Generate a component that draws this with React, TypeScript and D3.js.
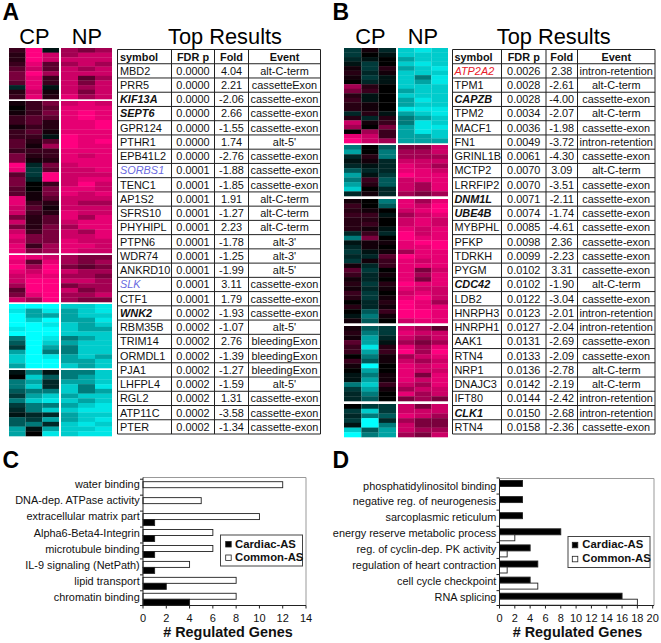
import React from "react";
import * as d3 from "d3";

// ---------- Heat map values: + magenta, - cyan, columns CP1 CP2 CP3 NP1 NP2 NP3
const heatA1 = [[3,9,-1,6,5,6],[2,9,7,6,7,7],[2,9,7,7,7,7],[3,8,4,6,7,6],[4,7,4,7,6,7],[5,9,6,7,7,7],[5,8,3,7,4,6],[4,8,3,7,5,7],[-2,8,-1,7,6,7],[2,7,1,7,5,7],[3,8,2,8,6,7]];
const heatA2 = [[1,3,5,7,8,7],[0,3,4,8,8,8],[1,3,5,8,9,8],[3,4,4,8,9,8],[3,4,2,8,8,9],[1,3,2,8,8,9],[3,4,1,8,8,8],[3,3,-1,9,8,8],[4,2,4,9,8,9],[4,1,6,9,8,8],[3,3,3,8,8,8],[5,2,3,8,7,8],[5,1,2,8,8,8],[9,-2,5,7,8,8],[8,-3,4,7,7,8],[4,-3,9,7,7,7],[5,-2,9,7,8,8],[5,0,3,7,9,7],[4,0,5,8,8,7],[4,1,5,8,7,8],[8,1,4,7,7,7],[8,3,2,7,6,6],[7,4,1,7,7,7],[7,3,2,8,7,7],[5,2,4,8,6,8],[7,2,4,7,8,8],[5,2,5,6,8,8],[7,3,5,7,6,8],[8,5,5,7,7,8],[7,5,5,8,7,7],[8,3,6,8,8,7],[8,5,6,8,7,7]];
const heatA3 = [[9,8,7,6,5,5],[8,4,8,6,5,6],[9,6,9,5,4,5],[8,7,9,7,6,6],[7,8,8,6,6,5],[7,9,9,7,7,6],[6,9,9,5,6,6],[4,9,9,7,5,6],[5,8,9,6,6,7],[7,6,9,6,5,5]];
const heatA4 = [[-9,-9,-9,-7,-7,-8],[-8,-6,-8,-6,-7,-8],[-9,-6,-6,-6,-7,-7],[-9,-7,-9,-6,-6,-8],[-9,-9,-8,-7,-6,-7],[-8,-9,-9,-7,-6,-6],[-9,-9,-9,-7,-7,-7],[-5,-9,-8,-5,-6,-7],[-4,-9,-7,-6,-7,-7],[-3,-9,-6,-5,-7,-7],[-6,-9,-5,-5,-7,-7],[-7,-9,-8,-6,-7,-6],[-7,-9,-9,-6,-6,-7],[-6,-9,-9,-7,-6,-7]];
const heatA5 = [[-1,-5,-1,-5,-5,-7],[0,-7,-4,-5,-6,-7],[-5,-6,-2,-6,-6,-7],[-5,-7,-2,-7,-5,-8],[-4,-5,-5,-7,-5,-6],[-3,-6,-7,-6,-7,-7],[-5,-7,-8,-7,-6,-7],[-3,-5,-5,-6,-7,-8],[-2,-5,-7,-7,-8,-8],[-1,-2,-2,-6,-7,-7],[-4,-3,-6,-6,-7,-8],[-4,-5,-2,-7,-8,-7],[-6,-1,-6,-7,-7,-8],[-6,0,-8,-7,-8,-8]];
const heatB1 = [[-3,1,-2,-7,-8,-7],[-3,0,-1,-7,-7,-7],[-2,-1,0,-6,-7,-7],[-1,-3,0,-7,-8,-7],[1,-3,2,-6,-7,-8],[2,-2,1,-7,-7,-7],[1,-3,-1,-7,-5,-8],[0,-2,-1,-7,-6,-8],[6,2,0,-7,-7,-7],[5,3,0,-6,-7,-7],[2,-1,0,-7,-7,-7],[3,-1,0,-6,-8,-7],[2,1,0,-6,-7,-7],[2,1,0,-8,-8,-8],[-2,2,-1,-6,-7,-8],[2,-2,2,-5,-6,-7],[7,1,3,-5,-8,-7],[6,0,5,-6,-8,-8],[0,6,3,-6,-8,-7],[8,7,3,-6,-6,-7],[9,7,6,-6,-6,-6]];
const heatB2 = [[-5,0,-4,5,5,7],[-6,0,-5,6,6,7],[-2,2,-5,6,6,6],[-1,1,-2,7,7,7],[-2,-1,-2,8,7,6],[-4,-2,-2,8,8,7],[-6,-1,-3,9,8,8],[-5,3,-4,7,8,8],[-6,2,-4,7,6,8],[-7,0,-2,7,6,8],[-2,1,-2,6,5,6]];
const heatB3 = [[1,0,-5,8,6,8],[3,0,-4,8,7,9],[2,1,0,7,8,9],[3,3,-1,6,7,8],[2,2,0,7,8,7],[2,3,0,7,8,7],[2,1,-1,8,7,8],[-2,3,-2,9,7,8],[-5,5,0,9,8,8],[-1,1,1,8,9,9],[-2,1,0,8,8,9],[-3,-1,1,6,8,8],[-2,-2,4,9,8,8],[-3,1,3,8,7,8],[1,-2,3,8,8,8],[4,-3,0,8,5,7],[3,-2,1,8,6,8],[1,-2,0,8,5,8],[2,-3,2,9,8,8],[1,-2,1,8,7,7],[3,-3,0,7,8,7],[2,-3,1,8,9,7],[0,-2,2,9,8,6],[2,-2,1,9,8,8],[0,-4,3,9,9,8],[-1,-5,1,9,9,8],[1,-4,0,7,8,8]];
const heatB4 = [[1,-4,-3,7,6,4],[2,-5,-3,8,7,7],[1,-6,-2,7,6,7],[4,-6,-1,6,5,6],[3,-8,2,8,6,8],[3,-6,3,9,6,9],[0,-5,1,6,7,8],[3,-4,1,7,6,7],[1,-9,0,8,7,8],[0,-6,0,8,7,7],[-1,-5,1,8,5,8],[-1,-6,1,8,7,8],[-5,-7,3,7,6,8],[-3,-6,1,6,7,7],[-2,-5,0,8,6,7],[-2,-4,0,5,6,5]];
const heatB5 = [[0,-3,-3,7,5,7],[-3,-7,-3,7,7,7],[-2,-5,-4,8,7,6],[-3,-9,-2,6,5,5],[-1,-9,-5,7,5,5],[-7,-4,-6,7,6,6],[-9,-5,-6,6,5,7]];

// ---------- Table A
const symbolsA = ["MBD2","PRR5","KIF13A","SEPT6","GPR124","PTHR1","EPB41L2","SORBS1","TENC1","AP1S2","SFRS10","PHYHIPL","PTPN6","WDR74","ANKRD10","SLK","CTF1","WNK2","RBM35B","TRIM14","ORMDL1","PJA1","LHFPL4","RGL2","ATP11C","PTER"];
const fdrA = ["0.0000","0.0000","0.0000","0.0000","0.0000","0.0000","0.0000","0.0001","0.0001","0.0001","0.0001","0.0001","0.0001","0.0001","0.0001","0.0001","0.0001","0.0002","0.0002","0.0002","0.0002","0.0002","0.0002","0.0002","0.0002","0.0002"];
const foldA = ["4.04","2.21","-2.06","2.66","-1.55","1.74","-2.76","-1.88","-1.85","1.91","-1.27","2.23","-1.78","-1.25","-1.99","3.11","1.79","-1.93","-1.07","2.76","-1.39","-1.27","-1.59","1.31","-3.58","-1.34"];
const eventA = ["alt-C-term","cassetteExon","cassette-exon","cassette-exon","cassette-exon","alt-5'","cassette-exon","cassette-exon","cassette-exon","alt-C-term","alt-C-term","alt-C-term","alt-3'","alt-3'","alt-5'","cassette-exon","cassette-exon","cassette-exon","alt-5'","bleedingExon","bleedingExon","bleedingExon","alt-5'","cassette-exon","cassette-exon","cassette-exon"];
const boldA = ["KIF13A","SEPT6","WNK2"];
const blueA = ["SORBS1","SLK"];

// ---------- Table B
const symbolsB = ["ATP2A2","TPM1","CAPZB","TPM2","MACF1","FN1","GRINL1B","MCTP2","LRRFIP2","DNM1L","UBE4B","MYBPHL","PFKP","TDRKH","PYGM","CDC42","LDB2","HNRPH3","HNRPH1","AAK1","RTN4","NRP1","DNAJC3","IFT80","CLK1","RTN4"];
const fdrB = ["0.0026","0.0028","0.0028","0.0034","0.0036","0.0049","0.0061","0.0070","0.0070","0.0071","0.0074","0.0085","0.0098","0.0099","0.0102","0.0102","0.0122","0.0123","0.0127","0.0131","0.0133","0.0136","0.0142","0.0144","0.0150","0.0158"];
const foldB = ["2.38","-2.61","-4.00","-2.07","-1.98","-3.72","-4.30","3.09","-3.51","-2.11","-1.74","-4.61","2.36","-2.23","3.31","-1.90","-3.04","-2.01","-2.04","-2.69","-2.09","-2.78","-2.19","-2.42","-2.68","-2.36"];
const eventB = ["intron-retention","alt-C-term","cassette-exon","alt-C-term","cassette-exon","intron-retention","cassette-exon","alt-C-term","cassette-exon","cassette-exon","cassette-exon","cassette-exon","cassette-exon","cassette-exon","cassette-exon","alt-C-term","cassette-exon","intron-retention","intron-retention","cassette-exon","cassette-exon","alt-C-term","alt-C-term","intron-retention","intron-retention","cassette-exon"];
const boldB = ["CAPZB","DNM1L","UBE4B","CDC42","CLK1"];
const redB = ["ATP2A2"];
const headers = ["symbol","FDR p","Fold","Event"];

// ---------- Bar charts
const termsC = ["water binding","DNA-dep. ATPase activity","extracellular matrix part","Alpha6-Beta4-Integrin","microtubule binding","IL-9 signaling (NetPath)","lipid transport","chromatin binding"];
const commonC = [12,5,10,6,6,4,8,8];
const cardiacC = [0,0,1,1,1,1,2,4];
const termsD = ["phosphatidylinositol binding","negative reg. of neurogenesis","sarcoplasmic reticulum","energy reserve metabolic process","reg. of cyclin-dep. PK activity","regulation of heart contraction","cell cycle checkpoint","RNA splicing"];
const cardiacD = [3,3,3,8,4,5,4,16];
const commonD = [0,0,0,2,1,1,5,18];
const ticksC = [0,2,4,6,8,10,12,14];
const ticksD = [0,2,4,6,8,10,12,14,16,18,20];

const FONT = "'Liberation Sans', Arial, sans-serif";
const heatColor = d3.scaleLinear<string>()
  .domain([-9, -7, -5, -3, 0, 3, 5, 7, 9])
  .range(["#00ffff", "#00cccc", "#007a7a", "#003a3a", "#000000", "#3a001d", "#7a003d", "#cc0066", "#ff0080"]);

type Block = { rows: number[][]; y0: number; y1: number };

function Heat({ blocks, cp, np }: { blocks: Block[]; cp: [number, number]; np: [number, number] }) {
  const xCp = d3.scaleBand<number>().domain([0, 1, 2]).range(cp);
  const xNp = d3.scaleBand<number>().domain([3, 4, 5]).range(np);
  return (
    <g style={{ filter: "blur(0.35px)" }}>
      {blocks.map((b, bi) => {
        const y = d3.scaleBand<number>().domain(d3.range(b.rows.length)).range([b.y0, b.y1]);
        return (
          <g key={bi}>
            {b.rows.map((r, ri) =>
              r.map((v, ci) => {
                const sx = ci < 3 ? xCp : xNp;
                return (
                  <rect key={ci} x={sx(ci)} y={y(ri)} width={sx.bandwidth()} height={y.bandwidth() + 0.3} fill={heatColor(v)} />
                );
              })
            )}
          </g>
        );
      })}
    </g>
  );
}

type TableProps = {
  xs: number[]; y0: number; y1: number; symbols: string[]; fdr: string[]; fold: string[]; event: string[];
  bold: string[]; colored: string[]; color: string; textX: number;
};

function Table({ xs, y0, y1, symbols, fdr, fold, event, bold, colored, color, textX }: TableProps) {
  const y = d3.scaleBand<number>().domain(d3.range(symbols.length + 1)).range([y0, y1]);
  const h = y.bandwidth();
  const mid = (i: number) => (xs[i] + xs[i + 1]) / 2;
  const fs = 10.9;
  return (
    <g fontFamily={FONT} fontSize={fs} fill="#111">
      {d3.range(symbols.length + 2).map((i) => (
        <line key={i} x1={xs[0]} x2={xs[4]} y1={y0 + i * h} y2={y0 + i * h} stroke="#222" strokeWidth={1} />
      ))}
      {xs.map((x, i) => (
        <line key={i} x1={x} x2={x} y1={y0} y2={y1} stroke="#222" strokeWidth={1} />
      ))}
      {headers.map((t, i) => (
        <text key={t} x={i === 0 ? textX : mid(i)} y={y0 + h / 2 + 4} textAnchor={i === 0 ? "start" : "middle"} fontWeight="bold">{t}</text>
      ))}
      {symbols.map((s, i) => {
        const base = (y(i + 1) as number) + h / 2 + 3.9;
        const isB = bold.includes(s);
        const isC = colored.includes(s);
        return (
          <g key={i}>
            <text x={textX} y={base} fontWeight={isB ? "bold" : "normal"} fontStyle={isB || isC ? "italic" : "normal"} fill={isC ? color : "#111"}>{s}</text>
            <text x={mid(1)} y={base} textAnchor="middle">{fdr[i]}</text>
            <text x={mid(2)} y={base} textAnchor="middle">{fold[i]}</text>
            <text x={mid(3)} y={base} textAnchor="middle">{event[i]}</text>
          </g>
        );
      })}
    </g>
  );
}

type BarsProps = {
  terms: string[]; first: number[]; second: number[]; firstFill: string; secondFill: string; ticks: number[];
  xRange: [number, number]; frameRight: number; top: number; bottom: number; bandRange: [number, number];
  labelRange: [number, number]; labelX: number; titleX: number; legend: { x0: number; x1: number; y0: number; y1: number; sx: number; tx: number; rows: number[] };
};

function Bars(p: BarsProps) {
  const x = d3.scaleLinear().domain([p.ticks[0], p.ticks[p.ticks.length - 1]]).range(p.xRange);
  const y = d3.scaleBand<string>().domain(p.terms).range(p.bandRange);
  const lab = d3.scalePoint<string>().domain(p.terms).range(p.labelRange);
  const bh = 6;
  const x0 = x(0);
  const L = p.legend;
  return (
    <g fontFamily={FONT} fill="#111">
      <path d={`M${x0},${p.top}H${p.frameRight}V${p.bottom}`} fill="none" stroke="#999" strokeWidth={1} />
      {p.terms.map((t, i) => {
        const c = (y(t) as number) + y.bandwidth() / 2;
        return (
          <g key={t}>
            <text x={p.labelX} y={(lab(t) as number) + 3.8} textAnchor="end" fontSize={10.9}>{t}</text>
            {p.first[i] > 0 && <rect x={x0} y={c - bh} width={x(p.first[i]) - x0} height={bh} fill={p.firstFill} stroke="#222" strokeWidth={0.9} />}
            {p.second[i] > 0 && <rect x={x0} y={c} width={x(p.second[i]) - x0} height={bh} fill={p.secondFill} stroke="#222" strokeWidth={0.9} />}
            <line x1={x0 - 3} x2={x0} y1={(y(t) as number) - 0.5} y2={(y(t) as number) - 0.5} stroke="#222" />
          </g>
        );
      })}
      <line x1={x0} x2={x0} y1={p.top} y2={p.bottom} stroke="#222" />
      <line x1={x0 - 3} x2={p.frameRight} y1={p.bottom} y2={p.bottom} stroke="#222" />
      {p.ticks.map((t) => (
        <g key={t}>
          <line x1={x(t)} x2={x(t)} y1={p.bottom} y2={p.bottom + 3} stroke="#222" />
          <text x={x(t)} y={621.7} textAnchor="middle" fontSize={11}>{t}</text>
        </g>
      ))}
      <text x={p.titleX} y={637.3} textAnchor="middle" fontSize={14.4} fontWeight="bold">{"# Regulated Genes"}</text>
      <rect x={L.x0} y={L.y0} width={L.x1 - L.x0} height={L.y1 - L.y0} fill="#fff" stroke="#444" />
      {["Cardiac-AS", "Common-AS"].map((t, i) => (
        <g key={t}>
          <rect x={L.sx} y={L.rows[i] - 6} width={5.5} height={5.5} fill={i === 0 ? "#000" : "#fff"} stroke="#222" strokeWidth={0.8} />
          <text x={L.tx} y={L.rows[i]} fontSize={11.3} fontWeight="bold">{t}</text>
        </g>
      ))}
    </g>
  );
}

export default function App() {
  return (
    <svg width={661} height={643} style={{ position: "absolute", left: 0, top: 0, background: "#fff" }}>
      <Heat cp={[9, 59]} np={[61, 112]} blocks={[
        { rows: heatA1, y0: 48, y1: 99 }, { rows: heatA2, y0: 101, y1: 253 }, { rows: heatA3, y0: 255, y1: 302 },
        { rows: heatA4, y0: 304, y1: 368 }, { rows: heatA5, y0: 370, y1: 436 },
      ]} />
      <Heat cp={[344, 396]} np={[398, 448]} blocks={[
        { rows: heatB1, y0: 48, y1: 143 }, { rows: heatB2, y0: 145, y1: 196 }, { rows: heatB3, y0: 199, y1: 323 },
        { rows: heatB4, y0: 326, y1: 401 }, { rows: heatB5, y0: 404, y1: 437 },
      ]} />

      <g fontFamily={FONT} fill="#000" fontWeight="bold" fontSize={23}>
        <text x={2.5} y={20}>A</text>
        <text x={332.5} y={20}>B</text>
        <text x={2.5} y={468}>C</text>
        <text x={332.5} y={468}>D</text>
      </g>
      <g fontFamily={FONT} fill="#000" fontSize={21.8} textAnchor="middle">
        <text x={34.5} y={43.5}>CP</text>
        <text x={87} y={43.5}>NP</text>
        <text x={225} y={43.5}>Top Results</text>
        <text x={370.5} y={43.5}>CP</text>
        <text x={423} y={43.5}>NP</text>
        <text x={553.7} y={43.5}>Top Results</text>
      </g>

      <Table xs={[117.5, 171.5, 214.5, 248.5, 320.5]} y0={49.5} y1={434} symbols={symbolsA} fdr={fdrA} fold={foldA} event={eventA}
        bold={boldA} colored={blueA} color="#6a6adf" textX={120} />
      <Table xs={[452.5, 501.5, 546, 577.5, 655]} y0={49.5} y1={434} symbols={symbolsB} fdr={fdrB} fold={foldB} event={eventB}
        bold={boldB} colored={redB} color="#e8202a" textX={454.5} />

      <Bars terms={termsC} first={commonC} second={cardiacC} firstFill="#fff" secondFill="#000" ticks={ticksC}
        xRange={[143, 306]} frameRight={306} top={477.5} bottom={605.5} bandRange={[479.73, 607.25]}
        labelRange={[484.3, 597.3]} labelX={139.7} titleX={228}
        legend={{ x0: 220.5, x1: 302.5, y0: 535, y1: 566, sx: 225.7, tx: 235, rows: [547.5, 561] }} />
      <Bars terms={termsD} first={cardiacD} second={commonD} firstFill="#000" secondFill="#fff" ticks={ticksD}
        xRange={[499.5, 652.7]} frameRight={654} top={478.5} bottom={605.5} bandRange={[478.45, 607.25]}
        labelRange={[485.7, 597.3]} labelX={496.3} titleX={577.5}
        legend={{ x0: 568, x1: 650, y0: 536.5, y1: 567.5, sx: 572.3, tx: 582.3, rows: [548.3, 562.3] }} />
    </svg>
  );
}
